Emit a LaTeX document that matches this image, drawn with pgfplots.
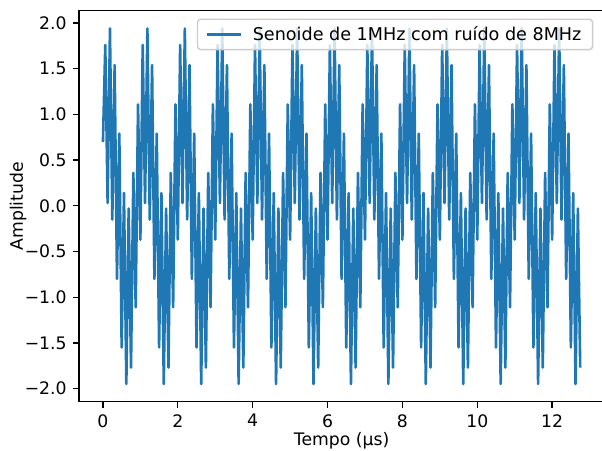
\documentclass[border=0pt]{standalone}
\usepackage{fontspec}
\setmainfont{DejaVu Sans}
\usepackage{pgfplots}
\pgfplotsset{compat=1.18}
\definecolor{mplblue}{HTML}{1F77B4}
\definecolor{legendedge}{HTML}{CCCCCC}

\begin{document}
\begin{tikzpicture}
\begin{axis}[
  scale only axis,
  width=303.4bp, height=226bp,
  xmin=-0.6375, xmax=13.3875,
  ymin=-2.1445, ymax=2.1345,
  axis line style={line width=0.8bp},
  tick style={line width=0.8bp, black},
  major tick length=3.5bp,
  tick align=outside,
  tick pos=left,
  xtick={0,2,4,6,8,10,12},
  xticklabels={0,2,4,6,8,10,12},
  ytick={-2,-1.5,-1,-0.5,0,0.5,1,1.5,2},
  yticklabels={−2.0,−1.5,−1.0,−0.5,0.0,0.5,1.0,1.5,2.0},
  every tick label/.append style={font=\fontsize{10}{12}\selectfont},
  xticklabel style={inner sep=0pt, anchor=north, yshift=-3.5bp},
  yticklabel style={inner sep=0pt, anchor=east, xshift=-3.5bp},
  xlabel={Tempo (µs)},
  ylabel={Amplitude},
  label style={font=\fontsize{10}{12}\selectfont},
  xlabel style={at={(axis description cs:0.5,0)}, anchor=north, yshift=-17.3bp, inner sep=0pt},
  ylabel style={at={(axis description cs:-0.1162,0.5)}, anchor=center, inner sep=0pt},
  % line sample 20bp long, followed by a small gap before the text
  legend image code/.code={\draw[#1] (0bp,0bp) -- (20bp,0bp); \path (24bp,0bp);},
  legend cell align=left,
  legend style={at={(axis description cs:1,1)}, anchor=north east,
    xshift=-6.2bp, yshift=-4.5bp,
    draw=legendedge, line width=0.8bp, rounded corners=2bp,
    fill=white, fill opacity=0.8, text opacity=1,
    font=\fontsize{10.2}{12}\selectfont,
    inner xsep=4.5bp, inner ysep=2bp},
]
\addplot[mplblue, line width=1.5bp, line join=round] coordinates {
(0,0.70) (0.0625,1.76) (0.125,0.03) (0.1875,1.94) (0.25,-0.15) (0.3125,1.54) (0.375,-0.80) (0.4375,0.79) (0.5,-1.55) (0.5625,0.14) (0.625,-1.95) (0.6875,-0.03) (0.75,-1.77) (0.8125,0.36) (0.875,-1.11) (0.9375,1.11)
(1,-0.37) (1.0625,1.76) (1.125,0.03) (1.1875,1.94) (1.25,-0.15) (1.3125,1.54) (1.375,-0.80) (1.4375,0.79) (1.5,-1.55) (1.5625,0.14) (1.625,-1.95) (1.6875,-0.03) (1.75,-1.77) (1.8125,0.36) (1.875,-1.11) (1.9375,1.11)
(2,-0.37) (2.0625,1.76) (2.125,0.03) (2.1875,1.94) (2.25,-0.15) (2.3125,1.54) (2.375,-0.80) (2.4375,0.79) (2.5,-1.55) (2.5625,0.14) (2.625,-1.95) (2.6875,-0.03) (2.75,-1.77) (2.8125,0.36) (2.875,-1.11) (2.9375,1.11)
(3,-0.37) (3.0625,1.76) (3.125,0.03) (3.1875,1.94) (3.25,-0.15) (3.3125,1.54) (3.375,-0.80) (3.4375,0.79) (3.5,-1.55) (3.5625,0.14) (3.625,-1.95) (3.6875,-0.03) (3.75,-1.77) (3.8125,0.36) (3.875,-1.11) (3.9375,1.11)
(4,-0.37) (4.0625,1.76) (4.125,0.03) (4.1875,1.94) (4.25,-0.15) (4.3125,1.54) (4.375,-0.80) (4.4375,0.79) (4.5,-1.55) (4.5625,0.14) (4.625,-1.95) (4.6875,-0.03) (4.75,-1.77) (4.8125,0.36) (4.875,-1.11) (4.9375,1.11)
(5,-0.37) (5.0625,1.76) (5.125,0.03) (5.1875,1.94) (5.25,-0.15) (5.3125,1.54) (5.375,-0.80) (5.4375,0.79) (5.5,-1.55) (5.5625,0.14) (5.625,-1.95) (5.6875,-0.03) (5.75,-1.77) (5.8125,0.36) (5.875,-1.11) (5.9375,1.11)
(6,-0.37) (6.0625,1.76) (6.125,0.03) (6.1875,1.94) (6.25,-0.15) (6.3125,1.54) (6.375,-0.80) (6.4375,0.79) (6.5,-1.55) (6.5625,0.14) (6.625,-1.95) (6.6875,-0.03) (6.75,-1.77) (6.8125,0.36) (6.875,-1.11) (6.9375,1.11)
(7,-0.37) (7.0625,1.76) (7.125,0.03) (7.1875,1.94) (7.25,-0.15) (7.3125,1.54) (7.375,-0.80) (7.4375,0.79) (7.5,-1.55) (7.5625,0.14) (7.625,-1.95) (7.6875,-0.03) (7.75,-1.77) (7.8125,0.36) (7.875,-1.11) (7.9375,1.11)
(8,-0.37) (8.0625,1.76) (8.125,0.03) (8.1875,1.94) (8.25,-0.15) (8.3125,1.54) (8.375,-0.80) (8.4375,0.79) (8.5,-1.55) (8.5625,0.14) (8.625,-1.95) (8.6875,-0.03) (8.75,-1.77) (8.8125,0.36) (8.875,-1.11) (8.9375,1.11)
(9,-0.37) (9.0625,1.76) (9.125,0.03) (9.1875,1.94) (9.25,-0.15) (9.3125,1.54) (9.375,-0.80) (9.4375,0.79) (9.5,-1.55) (9.5625,0.14) (9.625,-1.95) (9.6875,-0.03) (9.75,-1.77) (9.8125,0.36) (9.875,-1.11) (9.9375,1.11)
(10,-0.37) (10.0625,1.76) (10.125,0.03) (10.1875,1.94) (10.25,-0.15) (10.3125,1.54) (10.375,-0.80) (10.4375,0.79) (10.5,-1.55) (10.5625,0.14) (10.625,-1.95) (10.6875,-0.03) (10.75,-1.77) (10.8125,0.36) (10.875,-1.11) (10.9375,1.11)
(11,-0.37) (11.0625,1.76) (11.125,0.03) (11.1875,1.94) (11.25,-0.15) (11.3125,1.54) (11.375,-0.80) (11.4375,0.79) (11.5,-1.55) (11.5625,0.14) (11.625,-1.95) (11.6875,-0.03) (11.75,-1.77) (11.8125,0.36) (11.875,-1.11) (11.9375,1.11)
(12,-0.37) (12.0625,1.76) (12.125,0.03) (12.1875,1.94) (12.25,-0.15) (12.3125,1.54) (12.375,-0.80) (12.4375,0.79) (12.5,-1.55) (12.5625,0.14) (12.625,-1.95) (12.6875,-0.03) (12.75,-1.77)
};
\addlegendentry{Senoide de 1MHz com ruído de 8MHz}
\end{axis}
% crop the page to the figure area (right spine falls just outside)
\pgfresetboundingbox
\path[use as bounding box] ([xshift=-45.7bp,yshift=-27.9bp]current axis.south west)
  rectangle ([xshift=-1.2bp,yshift=6.2bp]current axis.north east);
\end{tikzpicture}
\end{document}
